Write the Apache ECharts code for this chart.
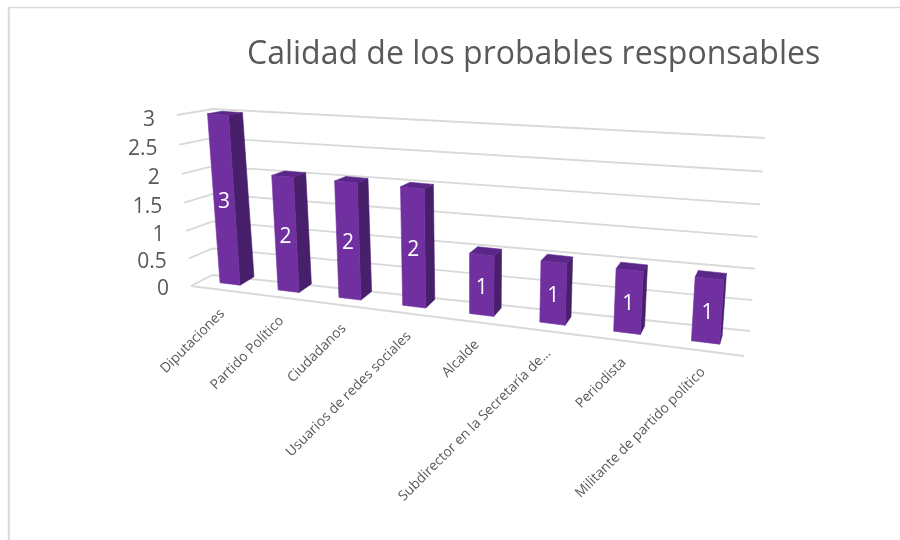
<!DOCTYPE html>
<html>
<head>
<meta charset="utf-8">
<style>html,body{margin:0;padding:0;background:#fff}#c{width:900px;height:540px}</style>
<script src="https://cdn.jsdelivr.net/npm/echarts@6/dist/echarts.min.js"></script>
</head>
<body>
<div id="c"></div>
<script>
const titleText = 'Calidad de los probables responsables';
const categories = ['Diputaciones','Partido Político','Ciudadanos','Usuarios de redes sociales','Alcalde','Subdirector en la Secretaría de...','Periodista','Militante de partido político'];
const values = [3,2,2,2,1,1,1,1];
const yTicks = [0,0.5,1,1.5,2,2.5,3];

const FRONT='#7030A0', SIDE='#471F6B', TOP='#5A2788', GRIDC='#D9D9D9', TEXT='#595959', FONT='"Open Sans", sans-serif';

// Perspective of the bars' front plane: (axis fraction u, value v) -> page pixels
function front(u,v){
  const w=1-0.1774*u;
  return [(201.69+412.2*u+v*(-4.48+8.33*u))/w,(280.5+5.35*u-v*(56.05-2.87*u))/w];
}
// Bars' depth direction at (u,v)
function depth(u,v){ return [15-13*u,-(8.5-2*v)]; }
// Walls: the three vertical edges of the box, lerped by foreshortened height
const mix=(a,b,t)=>[a[0]+(b[0]-a[0])*t,a[1]+(b[1]-a[1])*t];
function wall(v){
  const t=v/3, s=t/(1+0.05*(1-t));
  return {
    fl:mix([191,286],[177,115],s),
    bl:mix([212.5,275],[213,109],s),
    br:mix([750,331],[765,138],s)
  };
}
const fromGrid=(api,params,i,val)=>{
  const p=api.coord([i,val]), r=params.coordSys;
  return [(p[0]-r.x)/r.width, 3*(r.y+r.height-p[1])/r.height];
};

function renderWall(params,api){
  const t=api.value(1);
  const [,v]=fromGrid(api,params,0,t);
  const w=wall(v);
  const line={stroke:GRIDC,lineWidth:1.8,fill:null};
  const children=[{type:'polyline',shape:{points:[w.fl,w.bl,w.br]},style:line}];
  if(t===0) children.push({type:'line',shape:{x1:191,y1:286,x2:744,y2:356},style:line});
  children.push({type:'text',x:w.fl[0]-22,y:w.fl[1]+3.5+0.5*v,style:{text:String(t),align:'right',verticalAlign:'middle',font:'21px '+FONT,fill:TEXT}});
  return {type:'group',children};
}
function renderBar(params,api){
  const i=api.value(0), val=api.value(1);
  const [u0,v]=fromGrid(api,params,i,val);
  const hw=0.35*api.size([1,0])[0]/2/params.coordSys.width;
  const uL=u0-hw, uR=u0+hw;
  const add=(p,d)=>[p[0]+d[0],p[1]+d[1]];
  const bl=front(uL,0), br=front(uR,0), tl=front(uL,v), tr=front(uR,v);
  const brb=add(br,depth(uR,0)), trb=add(tr,depth(uR,v)), tlb=add(tl,depth(uL,v));
  const mid=front(u0,v/2);
  const lab=front(u0,0);
  const face=c=>({fill:c,stroke:c,lineWidth:0.6});
  const children=[
    {type:'polygon',shape:{points:[br,brb,trb,tr]},style:face(SIDE)},
    {type:'polygon',shape:{points:[tl,tr,trb,tlb]},style:face(TOP)},
    {type:'polygon',shape:{points:[bl,br,tr,tl]},style:face(FRONT)},
    {type:'text',x:mid[0],y:mid[1]+3,style:{text:String(val),align:'center',verticalAlign:'middle',font:'21px '+FONT,fill:'#fff'}},
    {type:'text',x:lab[0]-8+6*u0,y:lab[1]+27.5,rotation:Math.PI/4,style:{text:categories[i],align:'right',verticalAlign:'middle',font:'13.8px '+FONT,fill:TEXT}}
  ];
  return {type:'group',children};
}

const chart=echarts.init(document.getElementById('c'),null,{renderer:'canvas'});
chart.setOption({
  animation:false,
  backgroundColor:'#fff',
  title:{text:titleText,left:242,top:34,textStyle:{fontFamily:FONT,fontSize:32,fontWeight:'normal',color:TEXT}},
  grid:{left:100,top:100,width:600,height:300},
  xAxis:{type:'category',data:categories,show:false},
  yAxis:{type:'value',min:0,max:3,interval:0.5,show:false},
  graphic:[
    {type:'line',shape:{x1:8.5,y1:7.5,x2:900,y2:7.5},style:{stroke:'#D9D9D9',lineWidth:1.5}},
    {type:'line',shape:{x1:8.8,y1:7,x2:8.8,y2:540},style:{stroke:'#D9D9D9',lineWidth:2}}
  ],
  series:[
    {type:'custom',renderItem:renderWall,data:yTicks.map(t=>[0,t]),encode:{x:0,y:1},silent:true,z:1},
    {type:'custom',renderItem:renderBar,data:values.map((v,i)=>[i,v]),encode:{x:0,y:1},silent:true,z:2}
  ]
});
</script>
</body>
</html>
